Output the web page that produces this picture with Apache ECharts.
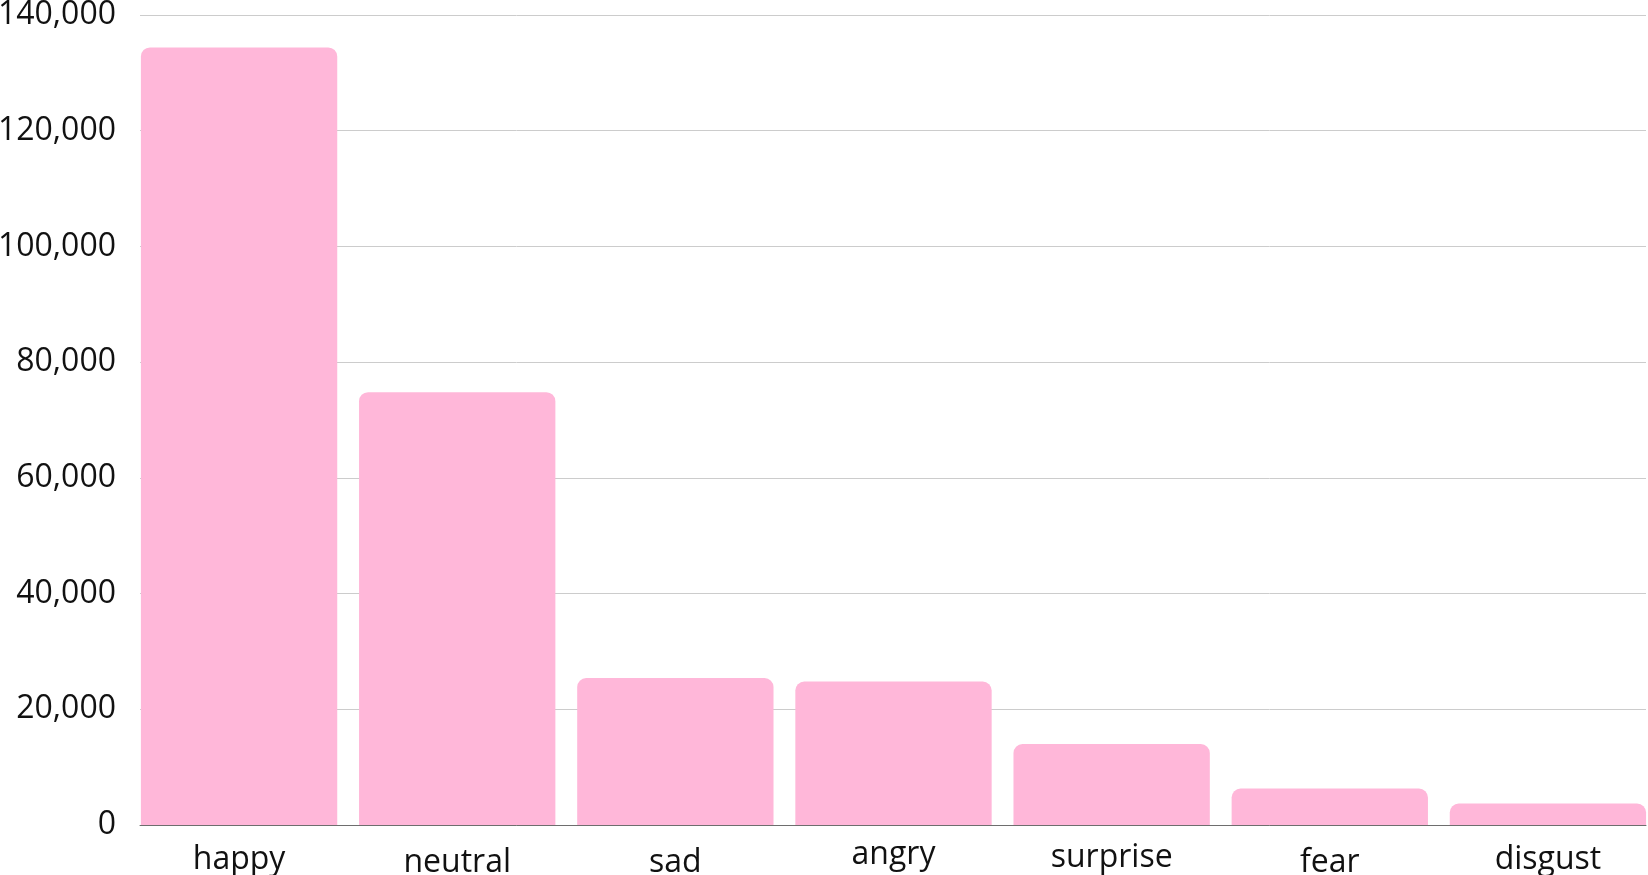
<!DOCTYPE html>
<html>
<head>
<meta charset="utf-8">
<script src="https://cdn.jsdelivr.net/npm/echarts@6/dist/echarts.min.js"></script>
<style>
  html, body { margin: 0; padding: 0; background: #fff; }
  #chart { width: 1648px; height: 875px; }
</style>
</head>
<body>
<div id="chart"></div>
<script>
var emotions = ['happy', 'neutral', 'sad', 'angry', 'surprise', 'fear', 'disgust']
var counts = [134400, 74800, 25400, 24800, 14000, 6300, 3700]
var yTicks = { min: 0, max: 140000, step: 20000 }

var font = 'Open Sans'
var chart = echarts.init(document.getElementById('chart'))

// the source centres each category label on its ink, so words without
// ascenders sit higher and words without descenders sit lower
function labelStyle (word) {
  var asc = /[bdfhklt]/.test(word)
  var desc = /[gjpqy]/.test(word)
  var dot = /[ij]/.test(word)
  if (asc && desc) return 'ad'
  if (asc) return 'a'
  if (dot) return 'dd'
  return 'd'
}

var options = {
  animation: false,
  textStyle: { fontFamily: font },
  grid: [
    // value scale, split lines and base line
    { left: 140, right: 2, top: 15, bottom: 50, outerBoundsMode: 'none' },
    // bars, a bit wider so the outer bars touch the ends of the axis
    { left: 130, width: 1527, top: 15, bottom: 50, outerBoundsMode: 'none' }
  ],
  xAxis: [
    {
      gridIndex: 0,
      type: 'value',
      min: 0,
      max: 1,
      axisLine: { show: true, onZero: false, lineStyle: { color: '#6e6e6e', width: 1 } },
      axisTick: { show: false },
      axisLabel: { show: false },
      splitLine: { show: false }
    },
    {
      gridIndex: 1,
      type: 'category',
      data: emotions,
      axisLine: { show: false },
      axisTick: { show: false },
      axisLabel: {
        interval: 0,
        hideOverlap: false,
        color: '#111',
        fontFamily: font,
        fontSize: 32,
        margin: 14,
        formatter: function (v) {
          return '{' + labelStyle(v) + '|' + v + '}'
        },
        rich: {
          ad: { fontSize: 32, padding: [5, 0, 0, 0] },
          a: { fontSize: 32, padding: [8, 0, 0, 0] },
          dd: { fontSize: 32, padding: [3, 0, 0, 0] },
          d: { fontSize: 32, padding: [0, 0, 0, 0] }
        }
      }
    }
  ],
  yAxis: [
    {
      gridIndex: 0,
      type: 'value',
      min: yTicks.min,
      max: yTicks.max,
      interval: yTicks.step,
      axisLine: { show: false },
      axisTick: { show: false },
      axisLabel: {
        color: '#111',
        fontFamily: font,
        fontSize: 32,
        margin: 24
      },
      splitLine: { lineStyle: { color: '#cccccc', width: 1 } }
    },
    {
      gridIndex: 1,
      type: 'value',
      min: yTicks.min,
      max: yTicks.max,
      show: false
    }
  ],
  series: [
    {
      type: 'bar',
      xAxisIndex: 1,
      yAxisIndex: 1,
      data: counts,
      barCategoryGap: '10%',
      itemStyle: {
        color: '#ffb7d9',
        borderRadius: [9, 9, 0, 0]
      }
    }
  ]
}

chart.setOption(options)
</script>
</body>
</html>
